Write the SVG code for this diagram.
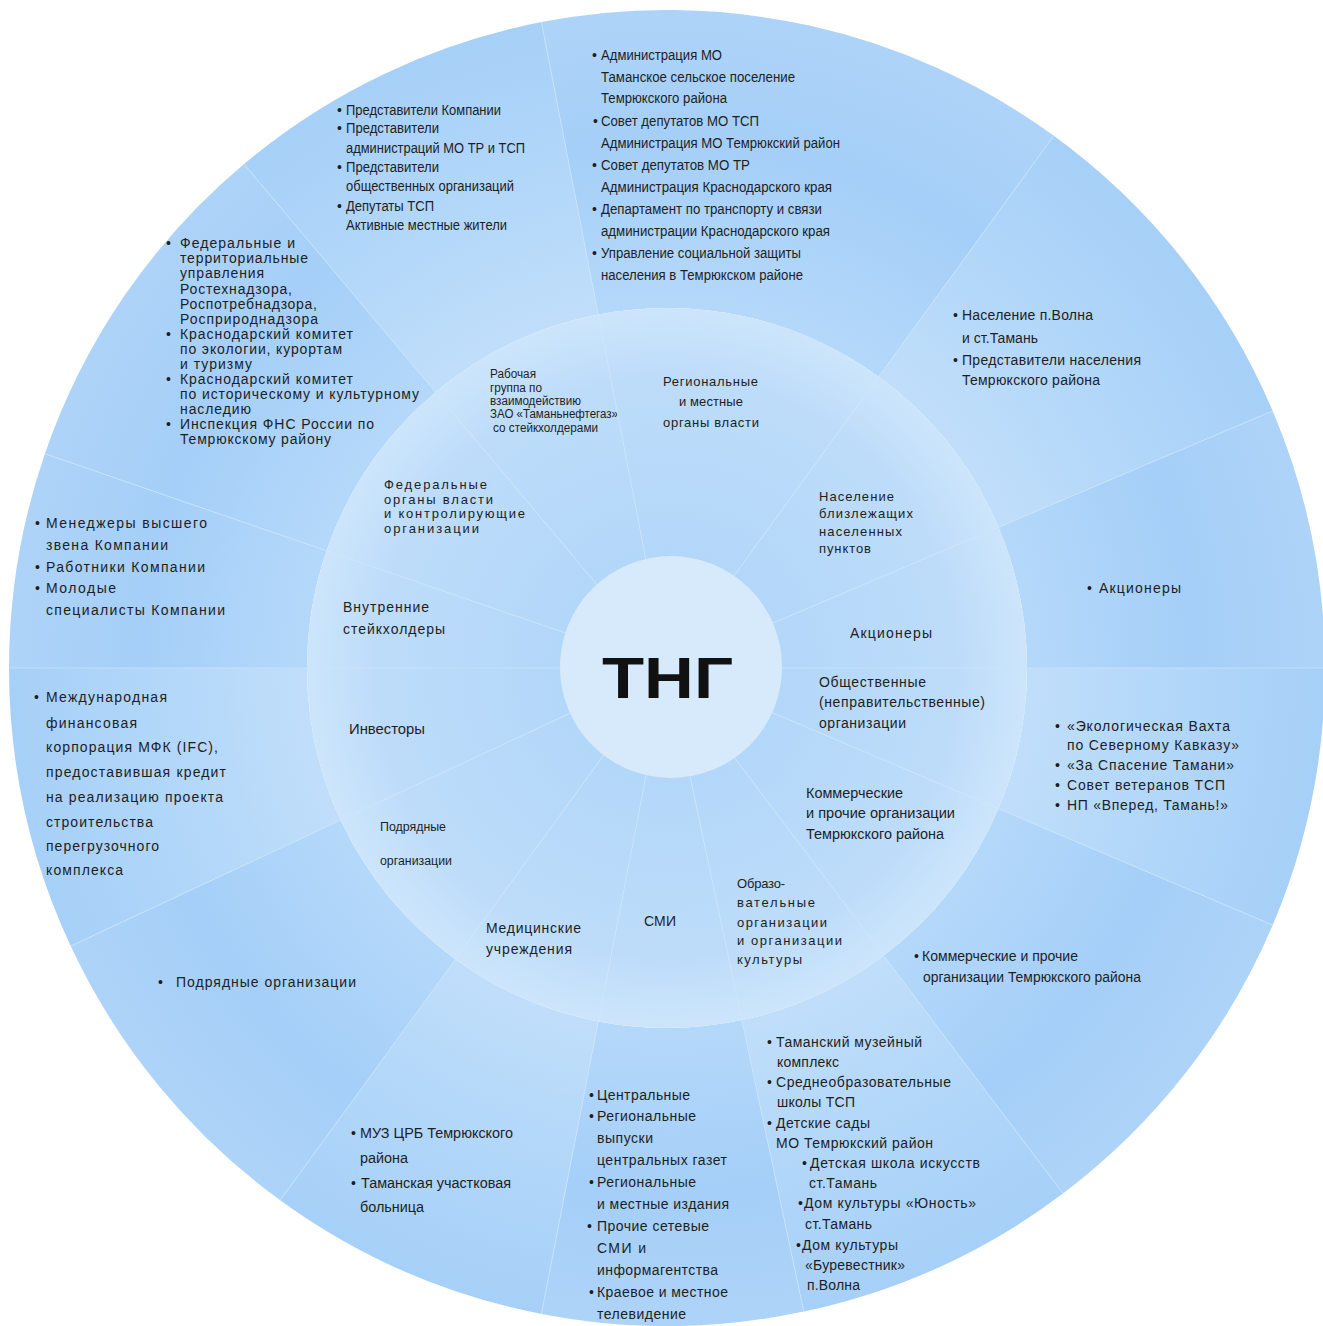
<svg xmlns="http://www.w3.org/2000/svg" width="1323" height="1326" viewBox="0 0 1323 1326">
<defs>
<radialGradient id="go1" gradientUnits="userSpaceOnUse" cx="667" cy="668" r="658">
<stop offset="0.55" stop-color="#b4d8fa"/><stop offset="0.8" stop-color="#a5cff8"/><stop offset="1" stop-color="#aed3f8"/>
</radialGradient>
<radialGradient id="go2" gradientUnits="userSpaceOnUse" cx="667" cy="668" r="658">
<stop offset="0.55" stop-color="#c0defa"/><stop offset="0.8" stop-color="#b0d6f9"/><stop offset="1" stop-color="#a7d0f8"/>
</radialGradient>
<radialGradient id="gi" gradientUnits="userSpaceOnUse" cx="667" cy="668" r="360">
<stop offset="0.3" stop-color="#b3d7f9"/><stop offset="0.8" stop-color="#bddcfa"/><stop offset="1" stop-color="#cce5fb"/>
</radialGradient>
</defs>
<style>
.t{font-family:"Liberation Sans",Arial,sans-serif;font-size:14px;fill:#1e1e1e}
.n{font-family:"Liberation Sans Narrow","Liberation Sans",Arial,sans-serif;font-size:14px;fill:#1e1e1e}
.s{font-size:13px}
.xs{font-size:12.5px}
.o1{fill:url(#go1)}
.o2{fill:url(#go2)}
.in{fill:url(#gi)}
.div{stroke:#cbe4fb;stroke-width:1;stroke-opacity:0.75;fill:none}
</style>
<rect width="1323" height="1326" fill="#ffffff"/>

<g id="seg-fed">
<path class="o1" d="M326.6,550.8 L44.9,453.8 A658,658 0 0 1 244,164 L435.6,392.2 A360,360 0 0 0 326.6,550.8 Z"/>
<path class="in" d="M667,668 L326.6,550.8 A360,360 0 0 1 435.6,392.2 Z"/>
<text class="t" x="166" y="248">•</text><text class="t" x="180" y="248" textLength="115">Федеральные и</text>
<text class="t" x="180" y="263" textLength="128">территориальные</text>
<text class="t" x="180" y="278" textLength="84">управления</text>
<text class="t" x="180" y="294" textLength="112">Ростехнадзора,</text>
<text class="t" x="180" y="309" textLength="137">Роспотребнадзора,</text>
<text class="t" x="180" y="324" textLength="138">Росприроднадзора</text>
<text class="t" x="166" y="339">•</text><text class="t" x="180" y="339" textLength="173">Краснодарский комитет</text>
<text class="t" x="180" y="354" textLength="162">по экологии, курортам</text>
<text class="t" x="180" y="369" textLength="72">и туризму</text>
<text class="t" x="166" y="384">•</text><text class="t" x="180" y="384" textLength="173">Краснодарский комитет</text>
<text class="t" x="180" y="399" textLength="239">по историческому и культурному</text>
<text class="t" x="180" y="414" textLength="71">наследию</text>
<text class="t" x="166" y="429">•</text><text class="t" x="180" y="429" textLength="194">Инспекция ФНС России по</text>
<text class="t" x="180" y="444" textLength="151">Темрюкскому району</text>
<text class="t s" x="384" y="489" textLength="103">Федеральные</text>
<text class="t s" x="384" y="503.5" textLength="109">органы власти</text>
<text class="t s" x="384" y="518" textLength="141">и контролирующие</text>
<text class="t s" x="384" y="532.5" textLength="95">организации</text>
</g>

<g id="seg-rab">
<path class="o2" d="M435.6,392.2 L244,164 A658,658 0 0 1 541.4,22.1 L598.3,314.6 A360,360 0 0 0 435.6,392.2 Z"/>
<path class="in" d="M667,668 L435.6,392.2 A360,360 0 0 1 598.3,314.6 Z"/>
<text class="n" x="337" y="115">•</text><text class="n" x="346" y="115" textLength="155" lengthAdjust="spacingAndGlyphs">Представители Компании</text>
<text class="n" x="337" y="133">•</text><text class="n" x="346" y="133" textLength="93" lengthAdjust="spacingAndGlyphs">Представители</text>
<text class="n" x="346" y="153" textLength="179" lengthAdjust="spacingAndGlyphs">администраций МО ТР и ТСП</text>
<text class="n" x="337" y="172">•</text><text class="n" x="346" y="172" textLength="93" lengthAdjust="spacingAndGlyphs">Представители</text>
<text class="n" x="346" y="191" textLength="168" lengthAdjust="spacingAndGlyphs">общественных организаций</text>
<text class="n" x="337" y="211">•</text><text class="n" x="346" y="211" textLength="88" lengthAdjust="spacingAndGlyphs">Депутаты ТСП</text>
<text class="n" x="346" y="230" textLength="161" lengthAdjust="spacingAndGlyphs">Активные местные жители</text>
<text class="n xs" x="490" y="378" textLength="46" lengthAdjust="spacingAndGlyphs">Рабочая</text>
<text class="n xs" x="490" y="392" textLength="52" lengthAdjust="spacingAndGlyphs">группа по</text>
<text class="n xs" x="490" y="405" textLength="91" lengthAdjust="spacingAndGlyphs">взаимодействию</text>
<text class="n xs" x="490" y="418" textLength="128" lengthAdjust="spacingAndGlyphs">ЗАО «Таманьнефтегаз»</text>
<text class="n xs" x="493" y="432" textLength="105" lengthAdjust="spacingAndGlyphs">со стейкхолдерами</text>
</g>

<g id="seg-reg">
<path class="o1" d="M598.3,314.6 L541.4,22.1 A658,658 0 0 1 1053.8,135.7 L878.6,376.8 A360,360 0 0 0 598.3,314.6 Z"/>
<path class="in" d="M667,668 L598.3,314.6 A360,360 0 0 1 878.6,376.8 Z"/>
<text class="n" x="592" y="60">•</text><text class="n" x="601" y="60" textLength="121" lengthAdjust="spacingAndGlyphs">Администрация МО</text>
<text class="n" x="601" y="82" textLength="194" lengthAdjust="spacingAndGlyphs">Таманское сельское поселение</text>
<text class="n" x="601" y="103" textLength="126" lengthAdjust="spacingAndGlyphs">Темрюкского района</text>
<text class="n" x="593" y="126">•</text><text class="n" x="601" y="126" textLength="158" lengthAdjust="spacingAndGlyphs">Совет депутатов МО ТСП</text>
<text class="n" x="601" y="148" textLength="239" lengthAdjust="spacingAndGlyphs">Администрация МО Темрюкский район</text>
<text class="n" x="592" y="170">•</text><text class="n" x="601" y="170" textLength="149" lengthAdjust="spacingAndGlyphs">Совет депутатов МО ТР</text>
<text class="n" x="601" y="192" textLength="231" lengthAdjust="spacingAndGlyphs">Администрация Краснодарского края</text>
<text class="n" x="592" y="214">•</text><text class="n" x="601" y="214" textLength="221" lengthAdjust="spacingAndGlyphs">Департамент по транспорту и связи</text>
<text class="n" x="601" y="236" textLength="229" lengthAdjust="spacingAndGlyphs">администрации Краснодарского края</text>
<text class="n" x="592" y="258">•</text><text class="n" x="601" y="258" textLength="200" lengthAdjust="spacingAndGlyphs">Управление социальной защиты</text>
<text class="n" x="601" y="280" textLength="202" lengthAdjust="spacingAndGlyphs">населения в Темрюкском районе</text>
<text class="t s" x="663" y="386" textLength="95">Региональные</text>
<text class="t s" x="679" y="406" textLength="64">и местные</text>
<text class="t s" x="663" y="427" textLength="96">органы власти</text>
</g>

<g id="seg-nas">
<path class="o2" d="M878.6,376.8 L1053.8,135.7 A658,658 0 0 1 1272.7,410.9 L998.4,527.3 A360,360 0 0 0 878.6,376.8 Z"/>
<path class="in" d="M667,668 L878.6,376.8 A360,360 0 0 1 998.4,527.3 Z"/>
<text class="t" x="953" y="320">•</text><text class="t" x="962" y="320" textLength="131">Население п.Волна</text>
<text class="t" x="962" y="343" textLength="76">и ст.Тамань</text>
<text class="t" x="953" y="365">•</text><text class="t" x="962" y="365" textLength="179">Представители населения</text>
<text class="t" x="962" y="385" textLength="138">Темрюкского района</text>
<text class="t s" x="819" y="501" textLength="75">Население</text>
<text class="t s" x="819" y="518" textLength="94">близлежащих</text>
<text class="t s" x="819" y="536" textLength="83">населенных</text>
<text class="t s" x="819" y="553" textLength="52">пунктов</text>
</g>

<g id="seg-akc">
<path class="o1" d="M998.4,527.3 L1272.7,410.9 A658,658 0 0 1 1325,668 L1027,668 A360,360 0 0 0 998.4,527.3 Z"/>
<path class="in" d="M667,668 L998.4,527.3 A360,360 0 0 1 1027,668 Z"/>
<text class="t" x="1087" y="593">•</text><text class="t" x="1099" y="593" textLength="82">Акционеры</text>
<text class="t" x="850" y="638" textLength="82">Акционеры</text>
</g>

<g id="seg-obsh">
<path class="o2" d="M1027,668 L1325,668 A658,658 0 0 1 1272.7,925.1 L998.4,808.7 A360,360 0 0 0 1027,668 Z"/>
<path class="in" d="M667,668 L1027,668 A360,360 0 0 1 998.4,808.7 Z"/>
<text class="t" x="1055" y="731">•</text><text class="t" x="1067" y="731" textLength="163">«Экологическая Вахта</text>
<text class="t" x="1067" y="750" textLength="172">по Северному Кавказу»</text>
<text class="t" x="1055" y="770">•</text><text class="t" x="1067" y="770" textLength="167">«За Спасение Тамани»</text>
<text class="t" x="1055" y="790">•</text><text class="t" x="1067" y="790" textLength="158">Совет ветеранов ТСП</text>
<text class="t" x="1055" y="810">•</text><text class="t" x="1067" y="810" textLength="161">НП «Вперед, Тамань!»</text>
<text class="t" x="819" y="687" textLength="107">Общественные</text>
<text class="t" x="819" y="707" textLength="166">(неправительственные)</text>
<text class="t" x="819" y="728" textLength="87">организации</text>
</g>

<g id="seg-komm">
<path class="o1" d="M998.4,808.7 L1272.7,925.1 A658,658 0 0 1 1063,1193.5 L883.6,955.5 A360,360 0 0 0 998.4,808.7 Z"/>
<path class="in" d="M667,668 L998.4,808.7 A360,360 0 0 1 883.6,955.5 Z"/>
<text class="n" x="914" y="961">•</text><text class="n" x="922" y="961" textLength="156" lengthAdjust="spacingAndGlyphs">Коммерческие и прочие</text>
<text class="n" x="923" y="982" textLength="218" lengthAdjust="spacingAndGlyphs">организации Темрюкского района</text>
<text class="n" x="806" y="798" textLength="97" lengthAdjust="spacingAndGlyphs">Коммерческие</text>
<text class="n" x="806" y="818" textLength="149" lengthAdjust="spacingAndGlyphs">и прочие организации</text>
<text class="n" x="806" y="839" textLength="138" lengthAdjust="spacingAndGlyphs">Темрюкского района</text>
</g>

<g id="seg-obr">
<path class="o2" d="M883.6,955.5 L1063,1193.5 A658,658 0 0 1 803.8,1311.6 L741.8,1020.1 A360,360 0 0 0 883.6,955.5 Z"/>
<path class="in" d="M667,668 L883.6,955.5 A360,360 0 0 1 741.8,1020.1 Z"/>
<text class="t" x="767" y="1047">•</text><text class="t" x="776" y="1047" textLength="146">Таманский музейный</text>
<text class="t" x="777" y="1067" textLength="62">комплекс</text>
<text class="t" x="767" y="1087">•</text><text class="t" x="776" y="1087" textLength="175">Среднеобразовательные</text>
<text class="t" x="777" y="1107" textLength="78">школы ТСП</text>
<text class="t" x="767" y="1128">•</text><text class="t" x="776" y="1128" textLength="94">Детские сады</text>
<text class="t" x="776" y="1148" textLength="157">МО Темрюкский район</text>
<text class="t" x="802" y="1168">•</text><text class="t" x="810" y="1168" textLength="170">Детская школа искусств</text>
<text class="t" x="809" y="1188" textLength="68">ст.Тамань</text>
<text class="t" x="798" y="1208">•</text><text class="t" x="804" y="1208" textLength="172">Дом культуры «Юность»</text>
<text class="t" x="805" y="1229" textLength="67">ст.Тамань</text>
<text class="t" x="796" y="1250">•</text><text class="t" x="802" y="1250" textLength="96">Дом культуры</text>
<text class="t" x="805" y="1270" textLength="100">«Буревестник»</text>
<text class="t" x="807" y="1290" textLength="53">п.Волна</text>
<text class="t s" x="737" y="888" textLength="48">Образо-</text>
<text class="t s" x="737" y="907" textLength="78">вательные</text>
<text class="t s" x="737" y="927" textLength="90">организации</text>
<text class="t s" x="737" y="945" textLength="105">и организации</text>
<text class="t s" x="737" y="964" textLength="65">культуры</text>
</g>

<g id="seg-smi">
<path class="o1" d="M741.8,1020.1 L803.8,1311.6 A658,658 0 0 1 541.4,1313.9 L598.3,1021.4 A360,360 0 0 0 741.8,1020.1 Z"/>
<path class="in" d="M667,668 L741.8,1020.1 A360,360 0 0 1 598.3,1021.4 Z"/>
<text class="t" x="589" y="1100">•</text><text class="t" x="597" y="1100" textLength="93">Центральные</text>
<text class="t" x="589" y="1121">•</text><text class="t" x="597" y="1121" textLength="99">Региональные</text>
<text class="t" x="597" y="1143" textLength="56">выпуски</text>
<text class="t" x="597" y="1165" textLength="130">центральных газет</text>
<text class="t" x="589" y="1187">•</text><text class="t" x="597" y="1187" textLength="99">Региональные</text>
<text class="t" x="597" y="1209" textLength="132">и местные издания</text>
<text class="t" x="587" y="1231">•</text><text class="t" x="597" y="1231" textLength="112">Прочие сетевые</text>
<text class="t" x="597" y="1253" textLength="49">СМИ и</text>
<text class="t" x="597" y="1275" textLength="121">информагентства</text>
<text class="t" x="589" y="1297">•</text><text class="t" x="597" y="1297" textLength="131">Краевое и местное</text>
<text class="t" x="597" y="1319" textLength="89">телевидение</text>
<text class="t" x="644" y="926" textLength="32">СМИ</text>
</g>

<g id="seg-med">
<path class="o2" d="M598.3,1021.4 L541.4,1313.9 A658,658 0 0 1 280.2,1200.3 L455.4,959.2 A360,360 0 0 0 598.3,1021.4 Z"/>
<path class="in" d="M667,668 L598.3,1021.4 A360,360 0 0 1 455.4,959.2 Z"/>
<text class="n" x="351" y="1138">•</text><text class="n" x="360" y="1138" textLength="153" lengthAdjust="spacingAndGlyphs">МУЗ ЦРБ Темрюкского</text>
<text class="n" x="360" y="1163" textLength="48" lengthAdjust="spacingAndGlyphs">района</text>
<text class="n" x="351" y="1188">•</text><text class="n" x="361" y="1188" textLength="150" lengthAdjust="spacingAndGlyphs">Таманская участковая</text>
<text class="n" x="360" y="1212" textLength="64" lengthAdjust="spacingAndGlyphs">больница</text>
<text class="t" x="486" y="933" textLength="95">Медицинские</text>
<text class="t" x="486" y="954" textLength="86">учреждения</text>
</g>

<g id="seg-podr">
<path class="o1" d="M455.4,959.2 L280.2,1200.3 A658,658 0 0 1 70.7,946.1 L340.7,820.1 A360,360 0 0 0 455.4,959.2 Z"/>
<path class="in" d="M667,668 L455.4,959.2 A360,360 0 0 1 340.7,820.1 Z"/>
<text class="t" x="158" y="987">•</text><text class="t" x="176" y="987" textLength="180">Подрядные организации</text>
<text class="n xs" x="380" y="831" textLength="66" lengthAdjust="spacingAndGlyphs">Подрядные</text>
<text class="n xs" x="380" y="865" textLength="72" lengthAdjust="spacingAndGlyphs">организации</text>
</g>

<g id="seg-inv">
<path class="o2" d="M340.7,820.1 L70.7,946.1 A658,658 0 0 1 9,668 L307,668 A360,360 0 0 0 340.7,820.1 Z"/>
<path class="in" d="M667,668 L340.7,820.1 A360,360 0 0 1 307,668 Z"/>
<text class="t" x="34" y="702">•</text><text class="t" x="46" y="702" textLength="121">Международная</text>
<text class="t" x="46" y="728" textLength="91">финансовая</text>
<text class="t" x="46" y="752" textLength="172">корпорация МФК (IFC),</text>
<text class="t" x="46" y="777" textLength="180">предоставившая кредит</text>
<text class="t" x="46" y="802" textLength="177">на реализацию проекта</text>
<text class="t" x="46" y="827" textLength="107">строительства</text>
<text class="t" x="46" y="851" textLength="113">перегрузочного</text>
<text class="t" x="46" y="875" textLength="77">комплекса</text>
<text class="n" x="349" y="734" textLength="76" lengthAdjust="spacingAndGlyphs">Инвесторы</text>
</g>

<g id="seg-vn">
<path class="o1" d="M307,668 L9,668 A658,658 0 0 1 44.9,453.8 L326.6,550.8 A360,360 0 0 0 307,668 Z"/>
<path class="in" d="M667,668 L307,668 A360,360 0 0 1 326.6,550.8 Z"/>
<text class="t" x="35" y="528">•</text><text class="t" x="46" y="528" textLength="161">Менеджеры высшего</text>
<text class="t" x="46" y="550" textLength="122">звена Компании</text>
<text class="t" x="35" y="572">•</text><text class="t" x="46" y="572" textLength="159">Работники Компании</text>
<text class="t" x="35" y="593">•</text><text class="t" x="46" y="593" textLength="70">Молодые</text>
<text class="t" x="46" y="615" textLength="179">специалисты Компании</text>
<text class="t" x="343" y="612" textLength="86">Внутренние</text>
<text class="t" x="343" y="634" textLength="102">стейкхолдеры</text>
</g>

<g id="dividers">
<line class="div" x1="667" y1="668" x2="44.9" y2="453.8"/>
<line class="div" x1="667" y1="668" x2="244" y2="164"/>
<line class="div" x1="667" y1="668" x2="541.4" y2="22.1"/>
<line class="div" x1="667" y1="668" x2="1053.8" y2="135.7"/>
<line class="div" x1="667" y1="668" x2="1272.7" y2="410.9"/>
<line class="div" x1="667" y1="668" x2="1325" y2="668"/>
<line class="div" x1="667" y1="668" x2="1272.7" y2="925.1"/>
<line class="div" x1="667" y1="668" x2="1063" y2="1193.5"/>
<line class="div" x1="667" y1="668" x2="803.8" y2="1311.6"/>
<line class="div" x1="667" y1="668" x2="541.4" y2="1313.9"/>
<line class="div" x1="667" y1="668" x2="280.2" y2="1200.3"/>
<line class="div" x1="667" y1="668" x2="70.7" y2="946.1"/>
<line class="div" x1="667" y1="668" x2="9" y2="668"/>
</g>

<g id="center">
<circle cx="671" cy="667" r="111" fill="#d6eafc"/>
<text x="602" y="698" font-family="Liberation Sans, Arial, sans-serif" font-size="58" font-weight="bold" fill="#111" textLength="131" lengthAdjust="spacingAndGlyphs">ТНГ</text>
</g>
</svg>
